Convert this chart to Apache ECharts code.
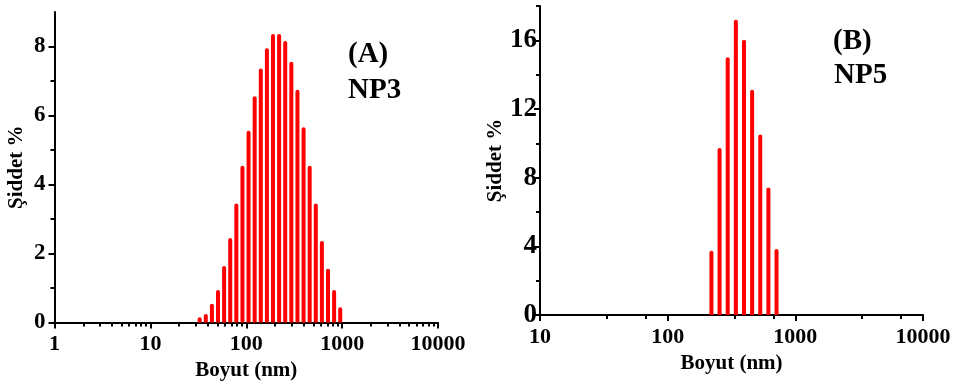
<!DOCTYPE html>
<html>
<head>
<meta charset="utf-8">
<script src="https://cdn.jsdelivr.net/npm/echarts@6/dist/echarts.min.js"></script>
<style>
  html, body { margin: 0; padding: 0; background: #fff; }
  #chart { width: 954px; height: 388px; }
</style>
</head>
<body>
<div id="chart"></div>
<script>
// (A) NP3 — size bins (nm) and intensity (%)
const np3Sizes = [32.67, 37.84, 43.82, 50.75, 58.77, 68.06, 78.82, 91.28, 105.7, 122.4, 141.8, 164.2,
  190.1, 220.2, 255.0, 295.3, 342.0, 396.1, 458.7, 531.2, 615.1, 712.4, 825.0, 955.4];
const np3Values = [0.15, 0.25, 0.54, 0.94, 1.64, 2.45, 3.45, 4.54, 5.56, 6.56, 7.36, 7.95,
  8.36, 8.36, 8.16, 7.56, 6.75, 5.66, 4.54, 3.45, 2.36, 1.56, 0.94, 0.44];

// (B) NP5
const np5Sizes = [220.2, 255.0, 295.3, 342.0, 396.1, 458.7, 531.2, 615.1, 712.4];
const np5Values = [3.74, 9.73, 15.02, 17.2, 16.03, 13.12, 10.52, 7.42, 3.84];

// tick labels
const np3XTicks = [1, 10, 100, 1000, 10000];
const np5XTicks = [10, 100, 1000, 10000];
const np3YTicks = [0, 2, 4, 6, 8];
const np3YMinor = [1, 3, 5, 7];
const np5YTicks = [0, 4, 8, 12, 16];
const np5YMinor = [2, 6, 10, 14, 18];

const FONT = '"Liberation Serif", "Times New Roman", serif';
const lg = v => Math.log10(v);

// minor ticks on the log axes
const np3XMinor = [];
for (let d = 0; d < 4; d++) {
  for (let k = 2; k <= 9; k++) np3XMinor.push(lg(k * Math.pow(10, d)));
}
const np5XMinor = [];
for (let d = 1; d < 4; d++) {
  np5XMinor.push(d + 0.523, d + 0.828);
}

const lineStyle = { color: '#000', width: 2 };
const labelStyle = { color: '#000', fontFamily: FONT, fontWeight: 'bold', fontSize: 22 };
const nameStyle = { color: '#000', fontFamily: FONT, fontWeight: 'bold', fontSize: 21 };

function logX(grid, ticks, minor, nameGap) {
  const min = lg(ticks[0]), max = lg(ticks[ticks.length - 1]);
  return [
    {
      gridIndex: grid, type: 'value', position: 'bottom', min: min, max: max,
      name: 'Boyut (nm)', nameLocation: 'middle', nameGap: nameGap, nameTextStyle: nameStyle,
      axisLine: { onZero: false, lineStyle: lineStyle },
      axisTick: { customValues: ticks.map(lg), length: 6, lineStyle: lineStyle },
      axisLabel: {
        customValues: ticks.map(lg), margin: 11, ...labelStyle,
        formatter: v => String(Math.round(Math.pow(10, v)))
      },
      splitLine: { show: false }
    },
    {
      gridIndex: grid, type: 'value', position: 'bottom', min: min, max: max,
      axisLine: { show: false, onZero: false },
      axisTick: { customValues: minor, length: 4, lineStyle: lineStyle },
      axisLabel: { show: false },
      splitLine: { show: false }
    }
  ];
}

function linY(grid, max, ticks, minor, labelMargin, labelSize, nameGap) {
  return [
    {
      gridIndex: grid, type: 'value', position: 'left', min: 0, max: max,
      name: 'Şiddet %', nameLocation: 'middle', nameGap: nameGap, nameTextStyle: nameStyle,
      axisLine: { show: true, onZero: false, lineStyle: lineStyle },
      axisTick: { show: true, customValues: ticks, length: 6, lineStyle: lineStyle },
      axisLabel: { customValues: ticks, margin: labelMargin, ...labelStyle, fontSize: labelSize },
      splitLine: { show: false }
    },
    {
      gridIndex: grid, type: 'value', position: 'left', min: 0, max: max,
      axisLine: { show: false, onZero: false },
      axisTick: { show: true, customValues: minor, length: 4, lineStyle: lineStyle },
      axisLabel: { show: false },
      splitLine: { show: false }
    }
  ];
}

function bars(xi, yi, sizes, values) {
  return {
    type: 'bar', xAxisIndex: xi, yAxisIndex: yi,
    barWidth: 4,
    data: sizes.map((s, i) => [lg(s), values[i]]),
    itemStyle: { color: '#ff0000', borderRadius: [2, 2, 0, 0] },
    silent: true
  };
}

const chart = echarts.init(document.getElementById('chart'));
chart.setOption({
  animation: false,
  backgroundColor: '#fff',
  grid: [
    { left: 54.5, right: 516, top: 12, bottom: 65.5 },
    { left: 540, right: 31, top: 6, bottom: 73 }
  ],
  xAxis: [...logX(0, np3XTicks, np3XMinor, 36), ...logX(1, np5XTicks, np5XMinor, 38)],
  yAxis: [...linY(0, 9, np3YTicks, np3YMinor, 9, 23, 27), ...linY(1, 18, np5YTicks, np5YMinor, 3, 27, 33)],
  series: [
    bars(0, 0, np3Sizes, np3Values),
    bars(2, 2, np5Sizes, np5Values)
  ],
  graphic: [
    { type: 'text', left: 348, top: 40, style: { text: '(A)', font: 'bold 29px ' + FONT, fill: '#000' } },
    { type: 'text', left: 348, top: 76, style: { text: 'NP3', font: 'bold 29px ' + FONT, fill: '#000' } },
    { type: 'text', left: 833, top: 27, style: { text: '(B)', font: 'bold 29px ' + FONT, fill: '#000' } },
    { type: 'text', left: 834, top: 61, style: { text: 'NP5', font: 'bold 29px ' + FONT, fill: '#000' } }
  ]
});
</script>
</body>
</html>
